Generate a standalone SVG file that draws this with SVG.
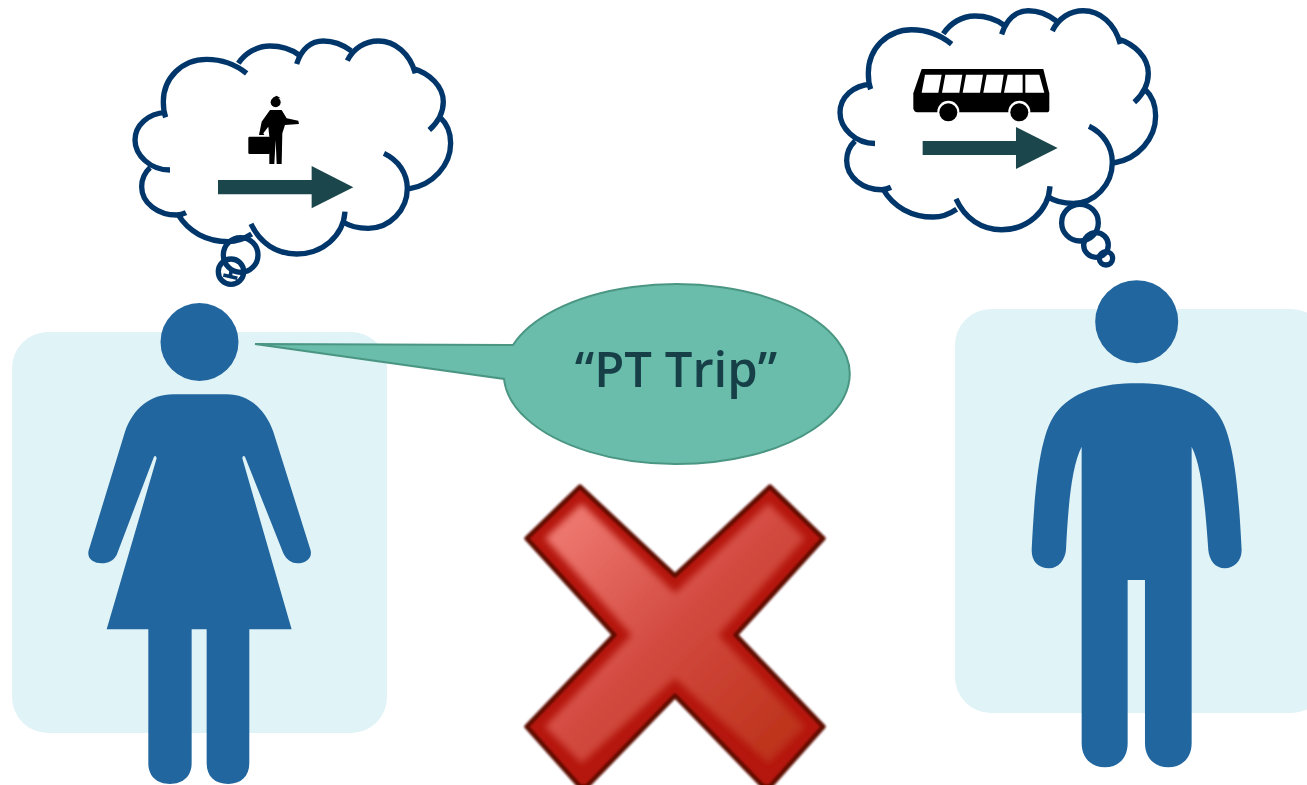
<svg xmlns="http://www.w3.org/2000/svg" width="1307" height="785" viewBox="0 0 1307 785">
<style>
.bg{fill:#e0f3f6}
.fig{fill:#22669f}
.cl{fill:none;stroke:#01366b;stroke-width:16}
.ar{fill:#1b474c}
.ic{fill:#000}
</style>
<defs>
<linearGradient id="xi" x1="0" y1="0" x2="1" y2="1"><stop offset="0" stop-color="#f28078"/><stop offset=".5" stop-color="#d2493f"/><stop offset="1" stop-color="#b92f14"/></linearGradient>
<filter id="bl" x="-10%" y="-10%" width="120%" height="120%"><feGaussianBlur stdDeviation="11"/></filter>
<filter id="bo" x="-5%" y="-5%" width="110%" height="110%"><feGaussianBlur stdDeviation="3"/></filter>
<path id="cloud" d="M380 130C345 102 305 88 260 88C185 88 130 145 130 215C130 232 132 248 137 262M137 247C85 250 45 285 45 330C45 375 90 420 150 420M90 413C72 430 65 450 65 470C65 520 115 555 170 555C180 555 190 552 198 548M175 555C205 605 260 635 325 635C350 635 375 625 395 612M393 582C420 640 470 672 530 672C605 672 670 620 675 545M668 575C690 590 715 595 745 595C810 595 862 540 862 475C862 430 835 390 792 370M866 477C940 465 992 405 992 340C992 310 980 280 960 262M878 115C930 130 970 170 970 215C970 250 950 280 928 300M886 130C870 70 825 33 775 33C735 33 700 55 682 92M693 62C670 45 640 33 610 33C575 33 545 55 530 102M537 75C510 55 480 48 450 48C410 48 375 70 355 100"/>
</defs>
<rect width="1307" height="785" fill="#fff"/>
<g id="woman">
<rect class="bg" x="12" y="332" width="375" height="401" rx="36"/>
<circle class="fig" cx="199.500" cy="342" r="39"/>
<path class="fig" transform="translate(0 290) scale(.3333)" d="M520 313H680C745 313 795 355 820 425L930 775C942 805 915 820 893 820C875 820 860 810 850 790L735 500Q728 495 727 505L875 1018H748V1420C748 1460 722 1482 685 1482C645 1482 620 1460 620 1420V1018H575V1420C575 1460 548 1482 510 1482C472 1482 445 1460 445 1420V1018H320L470 505Q468 495 462 500L350 795C340 812 325 820 305 820C280 820 256 805 268 775L375 425C400 355 450 313 520 313Z"/>
</g>
<g id="man">
<rect class="bg" x="955" y="309" width="372" height="404" rx="36"/>
<circle class="fig" cx="1136.700" cy="321.700" r="41.500"/>
<path class="fig" transform="translate(940 270) scale(.3333)" d="M590 340C690 340 770 360 825 420C880 480 895 640 905 840C905 875 880 895 855 895C825 895 808 870 805 840C795 700 785 590 755 530V1420C755 1465 725 1492 685 1492C645 1492 615 1465 615 1420V930H563V1420C563 1465 535 1492 495 1492C455 1492 425 1465 425 1420V530C395 590 385 700 378 840C375 870 355 895 328 895C295 895 275 875 275 840C285 640 300 480 355 420C410 360 490 340 590 340Z"/>
</g>
<g id="thought-left" transform="translate(120 30) scale(.3333)">
<use href="#cloud" class="cl"/>
<circle class="cl" cx="362" cy="675" r="52"/>
<circle class="cl" cx="333" cy="725" r="38"/>
<path class="cl" d="M335 715L330 742M310 735L352 745" style="stroke-width:11"/>
<path class="ar" d="M294 450H575V408L700 472L575 535V493H294Z"/>
<g id="traveller" class="ic">
<circle cx="467" cy="217" r="15"/>
<path d="M458 203L470 197L482 205ZM450 240H485L500 265L535 272L537 282L495 285L487 310L485 402H470L467 330L463 402H448L448 320L445 290L430 310L433 315L417 315L425 275Z"/>
<rect x="385" y="320" width="65" height="52" rx="4"/>
</g>
</g>
<g id="thought-right">
<g transform="translate(825 -.5) scale(.3333 .3427)"><use href="#cloud" class="cl"/></g>
<g transform="translate(830 0) scale(.3333)">
<circle class="cl" cx="750" cy="668" r="55"/>
<circle class="cl" cx="798" cy="735" r="37"/>
<circle class="cl" cx="828" cy="775" r="20"/>
<path class="ar" d="M278 423H558V381L683 444L558 507V465H278Z"/>
<g id="bus">
<path class="ic" d="M275 207H640L658 280V330Q658 337 650 337H262Q252 337 250 325V280Z"/>
<path d="M285 224H335L325 278H275ZM346 224H397L388 278H336ZM408 224H459L450 278H398ZM470 224H521L513 278H460ZM533 224H578V278H522ZM586 224H628L643 278H586Z" fill="#fff"/>
<circle cx="355" cy="335" r="33" fill="#fff"/><circle class="ic" cx="355" cy="337" r="27"/>
<circle cx="568" cy="335" r="33" fill="#fff"/><circle class="ic" cx="568" cy="337" r="27"/>
</g>
</g>
</g>
<g id="speech">
<path d="M513 345L255 344L504 379A173 90 0 1 0 513 345Z" fill="#69bdaa" stroke="#4a9683" stroke-width="2"/>
<text x="676" y="387" text-anchor="middle" font-family="'Open Sans','Liberation Sans',sans-serif" font-size="49" font-weight="600" fill="#163f48">“PT Trip”</text>
</g>
<g id="cross" transform="translate(510 470) scale(.3333)">
<path fill="#b5130a" stroke="#5e0a05" stroke-width="14" stroke-linejoin="round" filter="url(#bo)" d="M210 50L495 317L780 50L940 205L677 495L940 770L780 950H760L495 677L230 950H210L50 770L313 495L50 205Z"/>
<path fill="url(#xi)" filter="url(#bl)" d="M105 205L215 100L495 370L775 100L885 205L625 495L885 770L775 880L495 625L215 880L105 770L365 495Z"/>
</g>
</svg>
